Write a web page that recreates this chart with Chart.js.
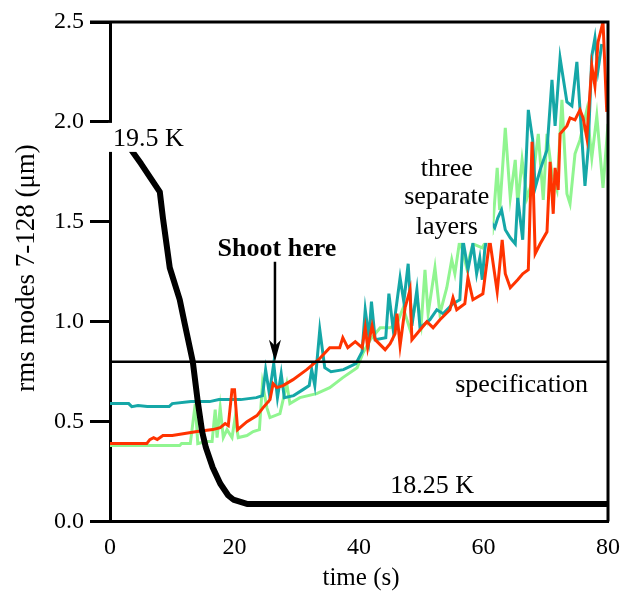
<!DOCTYPE html>
<html>
<head>
<meta charset="utf-8">
<script src="https://cdn.jsdelivr.net/npm/chart.js@4"></script>
<style>
  html, body { margin: 0; padding: 0; background: #fff; }
  #wrap { width: 621px; height: 596px; }
</style>
</head>
<body>
<div id="wrap"><canvas id="rmsChart" width="621" height="596"></canvas></div>
<script>
// ---- data ----
const tempTimes = [3.4, 5, 6.5, 8.0, 8.5, 9.6, 11.2, 12.0, 13.3, 14.1, 14.8, 15.4, 16.5, 17.7, 19.0, 19.8, 22, 80];
const tempValues = [1.86, 1.79, 1.72, 1.65, 1.52, 1.27, 1.11, 0.99, 0.80, 0.60, 0.45, 0.37, 0.27, 0.19, 0.13, 0.11, 0.088, 0.088];

const tealTimes = [0, 3, 3.5, 4.5, 6, 9.5, 10, 13, 16, 17.5, 21, 23.5, 24.5, 25, 25.6, 26.3, 26.9, 27.5, 28,
  29.5, 31, 32, 32.4, 32.9, 33.7, 34.5, 35.5, 37.5, 39.5, 40.5, 41, 41.6, 42, 42.6, 44.3, 44.8, 45.5, 46.6,
  47.2, 47.9, 48.5, 49.3, 49.8, 51.4, 52.5, 53.5, 55.1, 56.2, 56.7, 57.5, 58.3, 58.9, 59.4, 59.8, 60.2, 61,
  61.8, 62.3, 62.9, 63.5, 64.3, 65.1, 65.5, 66.3, 67.2, 67.9, 68.3, 69.1, 70.2, 71.0, 71.5, 72.3, 73.4, 74.2,
  75.0, 75.8, 76.3, 76.8, 77.4, 77.9, 78.4, 79.0];
const tealValues = [0.59, 0.59, 0.575, 0.58, 0.575, 0.575, 0.59, 0.60, 0.60, 0.61, 0.61, 0.62, 0.63, 0.76, 0.64, 0.79, 0.62, 0.74, 0.62,
  0.63, 0.66, 0.68, 0.76, 0.68, 0.96, 0.77, 0.75, 0.76, 0.79, 0.85, 1.06, 0.92, 1.10, 0.91, 0.92, 1.14, 0.96, 1.22,
  1.10, 1.29, 0.98, 1.16, 0.97, 1.01, 1.06, 1.04, 1.09, 1.11, 1.41, 1.26, 1.39, 1.24, 1.32, 1.21, 1.36, 1.51,
  1.47, 1.52, 1.56, 1.46, 1.42, 1.39, 1.62, 1.41, 2.06, 1.91, 1.67, 1.76, 1.86, 2.21, 1.98, 2.32, 2.10, 2.08,
  2.30, 1.92, 1.68, 1.86, 2.33, 2.42, 2.26, 2.39];

const redTimes = [0, 5.9, 6.4, 7, 7.6, 8.5, 10, 12, 14, 16.5, 17.7, 18.5, 19.0, 19.6, 20.0, 20.5, 22, 23.6, 24.6,
  25.7, 26.2, 26.8, 27.8, 29.4, 31.6, 33.5, 35.3, 36.9, 37.4, 38.2, 39.4, 40.5, 41.0, 41.4, 42.1, 42.6, 44.2,
  45.0, 45.8, 46.1, 46.6, 47.4, 48.2, 48.5, 49.3, 50.9, 51.9, 53.0, 54.6, 55.1, 55.7, 57.0, 57.5, 58.3, 59.9,
  61.0, 62.2, 63.0, 63.5, 64.3, 65.5, 66.3, 67.2, 67.8, 68.3, 69.1, 70.2, 70.7, 71.2, 71.5, 72.0, 72.3, 73.4,
  73.9, 74.7, 75.5, 76.0, 76.6, 77.4, 77.9, 78.4, 79.2, 79.8];
const redValues = [0.39, 0.39, 0.41, 0.42, 0.41, 0.43, 0.43, 0.44, 0.45, 0.46, 0.47, 0.49, 0.48, 0.66, 0.66, 0.46, 0.50, 0.53, 0.57,
  0.61, 0.69, 0.67, 0.68, 0.71, 0.76, 0.81, 0.87, 0.87, 0.92, 0.87, 0.90, 0.87, 0.97, 0.87, 0.98, 0.91, 0.86,
  0.89, 0.94, 1.04, 0.88, 1.07, 1.16, 0.91, 0.94, 1.00, 0.97, 1.01, 1.06, 1.12, 1.06, 1.09, 1.22, 1.11, 1.14,
  1.41, 1.15, 1.41, 1.24, 1.17, 1.21, 1.24, 1.26, 1.90, 1.34, 1.39, 1.45, 1.80, 1.54, 1.77, 1.66, 1.94, 1.98,
  2.02, 2.01, 2.06, 2.02, 1.92, 2.28, 2.18, 2.40, 2.50, 2.05];

const greenTimes = [0, 11.2, 11.5, 12.9, 13.7, 14.1, 15.5, 16.4, 16.9, 17.2, 17.7, 18.2, 18.8, 19.6, 20.1, 20.6,
  22.0, 23.0, 24.0, 24.5, 25.2, 25.7, 27.3, 28.4, 28.9, 30.5, 33.2, 35.3, 37.4, 39.7, 40.6, 41.8, 43.4, 45.0,
  46.1, 47.1, 48.2, 49.3, 50.0, 50.6, 51.1, 52.2, 53.0, 54.1, 54.9, 55.4, 56.2, 57.3, 58.3, 59.8, 60.5, 61.4,
  62.2, 62.6, 63.5, 64.3, 65.1, 65.5, 66.2, 67.0, 67.9, 68.8, 69.6, 70.2, 71.0, 71.8, 72.6, 73.4, 73.9, 74.7,
  75.5, 76.6, 77.4, 78.2, 79.2, 80.0];
const greenValues = [0.38, 0.38, 0.39, 0.39, 0.59, 0.39, 0.40, 0.40, 0.56, 0.42, 0.57, 0.42, 0.46, 0.42, 0.52, 0.42,
  0.43, 0.45, 0.46, 0.69, 0.57, 0.52, 0.54, 0.69, 0.59, 0.62, 0.64, 0.67, 0.72, 0.77, 0.84, 0.91, 0.97, 0.97,
  0.99, 1.07, 0.96, 1.12, 0.99, 1.26, 1.04, 1.27, 1.04, 1.17, 1.31, 1.24, 1.41, 1.27, 1.39, 1.37, 1.41, 1.44,
  1.77, 1.56, 1.97, 1.62, 1.81, 1.59, 1.81, 1.62, 1.71, 1.94, 1.61, 1.94, 1.74, 1.66, 2.11, 1.64, 1.59, 1.84,
  1.91, 2.06, 1.82, 2.03, 1.67, 1.99];

const specValue = 0.8;
const xTicks = [0, 20, 40, 60, 80];
const yTicks = [0.0, 0.5, 1.0, 1.5, 2.0, 2.5];

const toPoints = (xs, ys) => xs.map((x, i) => ({ x, y: ys[i] }));

const SERIF = '"Liberation Serif", "DejaVu Serif", serif';

// frame + text annotations
const annotations = {
    id: 'annotations',
    afterDatasetsDraw(chart) {
        const { ctx, chartArea: a, scales: { x, y } } = chart;
        ctx.save();

        // top and right frame
        ctx.strokeStyle = '#000';
        ctx.lineWidth = 3;
        ctx.beginPath();
        ctx.moveTo(a.left - 20, a.top);
        ctx.lineTo(a.right, a.top);
        ctx.lineTo(a.right, a.bottom);
        ctx.stroke();

        ctx.font = '26px ' + SERIF;
        ctx.fillStyle = '#000';
        ctx.textBaseline = 'alphabetic';

        // 19.5 K with white patch
        ctx.fillStyle = '#fff';
        ctx.fillRect(x.getPixelForValue(0) - 2, y.getPixelForValue(1.995), 76, 29);
        ctx.fillStyle = '#000';
        ctx.textAlign = 'left';
        ctx.fillText('19.5 K', x.getPixelForValue(0) + 3, y.getPixelForValue(1.88));

        // 18.25 K
        ctx.fillText('18.25 K', x.getPixelForValue(45.0), y.getPixelForValue(0.143));

        // specification
        ctx.textAlign = 'right';
        ctx.fillText('specification', x.getPixelForValue(76.8), y.getPixelForValue(0.65));

        // three separate layers
        const cx = x.getPixelForValue(54.1);
        ctx.fillStyle = '#fff';
        ctx.fillRect(cx - 46, y.getPixelForValue(1.83), 92, 87);
        ctx.fillStyle = '#000';
        ctx.textAlign = 'center';
        ctx.fillText('three', cx, y.getPixelForValue(1.728));
        ctx.fillText('separate', cx, y.getPixelForValue(1.59));
        ctx.fillText('layers', cx, y.getPixelForValue(1.44));

        // Shoot here + arrow
        const ax = x.getPixelForValue(26.5);
        ctx.font = 'bold 26px ' + SERIF;
        ctx.fillText('Shoot here', ax + 2, y.getPixelForValue(1.33));
        const top = y.getPixelForValue(1.30);
        const tip = y.getPixelForValue(specValue);
        ctx.lineWidth = 2.5;
        ctx.beginPath();
        ctx.moveTo(ax, top);
        ctx.lineTo(ax, tip - 8);
        ctx.stroke();
        ctx.beginPath();
        ctx.moveTo(ax, tip);
        ctx.lineTo(ax - 6, tip - 22);
        ctx.lineTo(ax, tip - 16);
        ctx.lineTo(ax + 6, tip - 22);
        ctx.closePath();
        ctx.fill();

        // axis titles
        ctx.font = '25px ' + SERIF;
        ctx.textAlign = 'center';
        ctx.fillText('time (s)', (a.left + a.right) / 2 + 2, 585);
        ctx.font = '27px ' + SERIF;
        ctx.translate(34, 268);
        ctx.rotate(-Math.PI / 2);
        ctx.fillText('rms modes 7-128 (\u03bcm)', 0, 0);

        ctx.restore();
    }
};

const ctx = document.getElementById('rmsChart').getContext('2d');
new Chart(ctx, {
    type: 'line',
    data: {
        datasets: [
            { label: 'temperature', data: toPoints(tempTimes, tempValues), borderColor: '#000', borderWidth: 6, borderJoinStyle: 'round' },
            { label: 'specification', data: toPoints([0, 80], [specValue, specValue]), borderColor: '#000', borderWidth: 2.5 },
            { label: 'layer 3', data: toPoints(redTimes, redValues), borderColor: '#ff3300', borderWidth: 3 },
            { label: 'layer 1', data: toPoints(tealTimes, tealValues), borderColor: '#15a7a7', borderWidth: 3 },
            { label: 'layer 2', data: toPoints(greenTimes, greenValues), borderColor: '#90f590', borderWidth: 3 }
        ]
    },
    options: {
        responsive: false,
        animation: false,
        devicePixelRatio: 1,
        elements: { point: { radius: 0 }, line: { tension: 0, borderJoinStyle: 'miter' } },
        layout: { padding: { left: 0, right: 0, top: 22, bottom: 0 } },
        plugins: { legend: { display: false }, tooltip: { enabled: false } },
        scales: {
            x: {
                type: 'linear', min: 0, max: 80,
                afterFit: (s) => { s.height = 74.5; s.paddingRight = 13; },
                afterBuildTicks: (s) => { s.ticks = xTicks.map(v => ({ value: v })); },
                border: { color: '#000', width: 3 },
                grid: { display: false, drawTicks: false },
                ticks: { color: '#000', padding: 12, maxRotation: 0, font: { family: SERIF, size: 24 } }
            },
            y: {
                min: 0, max: 2.5,
                afterFit: (s) => { s.width = 110; },
                afterBuildTicks: (s) => { s.ticks = yTicks.map(v => ({ value: v })); },
                border: { color: '#000', width: 3 },
                grid: { drawOnChartArea: false, drawTicks: true, tickLength: 20, lineWidth: 3, color: '#000' },
                ticks: { color: '#000', padding: 6, callback: (v) => v.toFixed(1), font: { family: SERIF, size: 24 } }
            }
        }
    },
    plugins: [annotations]
});
</script>
</body>
</html>
